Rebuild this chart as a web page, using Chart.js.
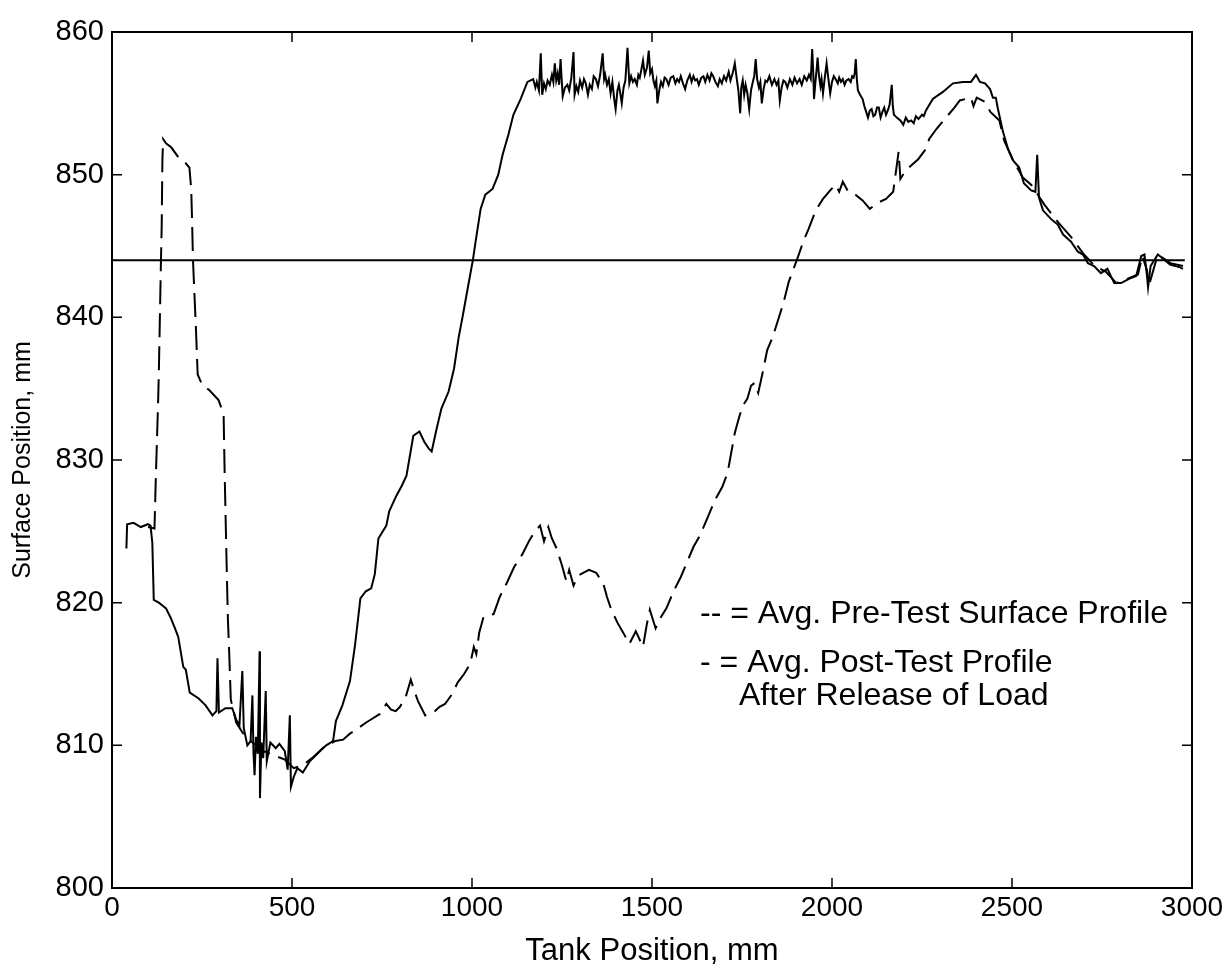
<!DOCTYPE html>
<html>
<head>
<meta charset="utf-8">
<script src="https://cdn.jsdelivr.net/npm/chart.js@4.4.1/dist/chart.umd.min.js"></script>
<style>
  html, body { margin: 0; padding: 0; background: #fff; }
  #wrap { width: 1228px; height: 973px; }
</style>
</head>
<body>
<div id="wrap"><canvas id="surfaceChart" width="1228" height="973"></canvas></div>
<script>
// ================= DATA =================
const xTicks = [0, 500, 1000, 1500, 2000, 2500, 3000];
const yTicks = [800, 810, 820, 830, 840, 850, 860];

// still water level
const levelX = [0, 2980];
const levelY = [844, 844];

// solid: avg. post-test profile after release of load
const postX = [40, 42, 60, 80, 100, 107, 112, 116, 130, 140, 150, 162, 175, 184, 198, 205, 216, 240, 260, 279,
  290, 293, 297, 315, 334, 345, 354, 362, 366, 376, 385, 390, 393, 396, 400, 405, 410, 411, 415, 420,
  427, 430, 440, 455, 465, 480, 488, 494, 497, 505, 515, 530, 550, 578, 595, 614, 622, 640, 661, 675,
  690, 705, 720, 730, 740, 762, 770, 790, 805, 818, 837, 854, 867, 880, 888, 900, 915, 935, 950, 963,
  975, 985, 1003, 1010, 1024, 1037, 1057, 1073, 1085, 1101, 1115, 1135, 1154,
  1170, 1176, 1180, 1186, 1191, 1195, 1200, 1205, 1210, 1216, 1222, 1226, 1230, 1234, 1238, 1242, 1246, 1249, 1252, 1258,
  1265, 1270, 1276, 1282, 1285, 1290, 1295, 1300, 1306, 1311, 1316, 1322, 1327, 1333, 1338, 1344, 1350, 1356, 1363, 1367,
  1370, 1375, 1380, 1385, 1390, 1395, 1399, 1404, 1408, 1412, 1416, 1421, 1426, 1432, 1437, 1442, 1447, 1452, 1458, 1462,
  1466, 1470, 1475, 1480, 1486, 1491, 1495, 1500, 1504, 1508, 1512, 1515, 1520, 1525, 1530, 1535, 1540, 1546, 1552, 1559,
  1565, 1570, 1575, 1580, 1586, 1592, 1598, 1605, 1610, 1615, 1620, 1625, 1630, 1637, 1643, 1648, 1654, 1660, 1665, 1670,
  1676, 1683, 1688, 1694, 1700, 1706, 1713, 1718, 1724, 1730, 1735, 1740, 1745, 1748, 1752, 1756, 1760, 1765, 1770, 1775,
  1780, 1784, 1788, 1792, 1797, 1801, 1805, 1810, 1815, 1820, 1826, 1833, 1840, 1846, 1851, 1855, 1860, 1865, 1870, 1876,
  1883, 1890, 1896, 1903, 1910, 1916, 1923, 1930, 1936, 1941, 1945, 1948, 1950, 1954, 1957, 1960, 1964, 1968, 1971, 1975,
  1980, 1985, 1990, 1995, 2000, 2005, 2010, 2016, 2020, 2025, 2030, 2035, 2040, 2046, 2052, 2056, 2060, 2063, 2066, 2069,
  2072, 2078, 2085, 2090, 2095, 2100, 2105, 2110, 2115, 2120, 2125, 2130, 2135, 2140, 2145, 2150, 2155, 2160, 2163, 2166,
  2169, 2172, 2180, 2190, 2198, 2205, 2212, 2220, 2227, 2233, 2240, 2250, 2255, 2261,
  2280, 2308, 2336, 2364, 2386, 2400, 2411, 2425, 2439, 2447, 2455, 2461, 2475, 2489, 2503,
  2520, 2533, 2553, 2565, 2570, 2575, 2586, 2608, 2627, 2642, 2664, 2683, 2697, 2711, 2728, 2747, 2765, 2784, 2803, 2825,
  2845, 2859, 2868, 2875, 2878, 2885, 2905, 2920, 2939, 2967, 2975];
const postY = [823.8, 825.5, 825.6, 825.3, 825.5, 825.4, 824.2, 820.2, 820.0, 819.8, 819.6, 819.0, 818.2, 817.6, 815.5, 815.3, 813.7, 813.3, 812.8, 812.1,
  812.4, 816.1, 812.3, 812.6, 812.6, 811.8, 811.4, 815.2, 811.2, 810.0, 810.3, 813.5, 809.5, 807.9, 810.6, 809.4, 816.6, 806.3, 810.2, 809.1,
  813.8, 808.9, 810.2, 809.8, 810.1, 809.6, 808.3, 812.1, 807.1, 807.8, 808.4, 808.1, 808.9, 809.6, 810.0, 810.3, 811.7, 812.8, 814.5, 817.0,
  820.3, 820.8, 821.0, 822.0, 824.5, 825.4, 826.4, 827.5, 828.2, 828.9, 831.7, 832.0, 831.3, 830.8, 830.6, 832.0, 833.6, 834.8, 836.4, 838.6,
  840.2, 841.6, 844.1, 845.3, 847.6, 848.6, 849.0, 850.0, 851.4, 852.8, 854.2, 855.3, 856.5,
  856.7, 856.1, 856.5, 855.9, 858.5, 855.6, 856.4, 856.0, 856.6, 856.3, 857.0, 856.5, 857.8, 856.6, 857.1, 856.3, 858.1, 856.7, 855.5, 856.1,
  856.3, 855.9, 856.8, 858.6, 855.6, 856.2, 855.8, 856.6, 856.1, 856.7, 856.4, 855.6, 856.3, 856.0, 856.9, 856.7, 856.2, 857.0, 858.5, 856.7,
  857.0, 856.3, 856.7, 855.7, 856.5, 855.3, 854.6, 855.9, 856.3, 855.7, 855.0, 856.1, 856.6, 858.9, 856.4, 856.9, 856.5, 856.7, 856.3, 857.0,
  856.8, 857.3, 858.0, 857.0, 857.5, 858.7, 857.1, 857.4, 856.6, 856.2, 856.6, 855.0, 855.9, 856.5, 856.2, 856.8, 856.7, 856.3, 856.8, 856.9,
  856.4, 856.7, 856.5, 856.9, 856.4, 856.0, 856.6, 857.0, 856.5, 856.9, 856.6, 856.7, 856.3, 856.8, 856.9, 856.5, 857.0, 856.6, 857.1, 856.9,
  856.5, 856.2, 856.7, 856.4, 856.9, 856.6, 857.2, 856.6, 857.1, 857.8, 856.8, 855.9, 854.3, 856.1, 856.6, 855.6, 856.3, 855.7, 854.6, 855.9,
  856.5, 856.9, 858.1, 856.7, 856.1, 856.5, 855.0, 856.0, 856.6, 856.5, 856.9, 856.3, 856.7, 856.3, 856.6, 855.2, 856.1, 856.6, 856.5, 856.1,
  856.7, 856.3, 856.8, 856.4, 856.7, 856.3, 856.9, 856.6, 857.0, 856.7, 858.8, 857.1, 855.3, 856.5, 857.3, 858.2, 856.9, 856.2, 856.7, 855.7,
  856.8, 857.8, 856.7, 855.7, 856.5, 856.9, 856.7, 856.4, 856.8, 856.5, 856.7, 856.3, 856.6, 856.7, 856.5, 856.9, 856.8, 857.1, 858.1, 856.7,
  855.9, 855.6, 855.3, 854.8, 854.4, 854.0, 854.5, 854.6, 854.1, 854.2, 854.7, 854.7, 854.0, 854.4, 854.7, 854.2, 854.5, 854.9, 855.6, 856.3,
  854.8, 854.2, 854.0, 853.8, 853.5, 854.0, 853.7, 853.8, 853.6, 854.1, 853.9, 854.2, 854.1, 854.5,
  855.3, 855.8, 856.4, 856.5, 856.5, 857.0, 856.5, 856.4, 856.0, 855.4, 855.4, 854.6, 853.0, 851.8, 851.0,
  850.5, 849.4, 848.9, 848.8, 851.4, 848.4, 847.5, 846.9, 846.5, 845.8, 845.3, 844.6, 844.4, 843.8, 843.6, 843.1, 843.4, 842.4, 842.4, 842.7,
  842.9, 844.3, 844.4, 842.9, 842.1, 843.6, 844.4, 844.1, 843.7, 843.5, 843.4];

// dashed: avg. pre-test surface profile
const preX = [100, 118, 122, 125, 128, 130, 133, 136, 138, 140, 142, 150, 165, 185, 205, 215, 220, 222, 225, 229,
  233, 238, 250, 270, 296, 310, 313, 316, 319, 322, 325, 330, 345, 365, 390, 420, 450, 480, 505, 530,
  560, 590, 620, 642, 660, 678, 706, 725, 744, 762, 775, 788, 800, 816, 830, 840, 850, 870, 885, 897,
  910, 925, 945, 960, 978, 995, 1005, 1012, 1020, 1032, 1060, 1077, 1097, 1117, 1140, 1160, 1175, 1189, 1200, 1212,
  1222, 1235, 1250, 1262, 1270, 1282, 1295, 1310, 1325, 1345, 1365, 1375, 1387, 1404, 1420, 1437, 1455, 1475, 1485, 1494,
  1510, 1525, 1540, 1560, 1580, 1600, 1615, 1633, 1655, 1675, 1695, 1710, 1720, 1730, 1742, 1752, 1765, 1775, 1785, 1795,
  1808, 1820, 1835, 1850, 1865, 1880, 1905, 1920, 1935, 1955, 1975, 1995, 2010, 2020, 2030, 2045, 2065, 2085, 2105, 2125,
  2150, 2170, 2185, 2190, 2205, 2240, 2261, 2270, 2290, 2320, 2340, 2355, 2386, 2393, 2402, 2425, 2440, 2465, 2478, 2503,
  2530, 2553, 2590, 2630, 2665, 2700, 2730, 2760, 2790, 2820, 2850, 2862, 2875, 2880, 2905, 2940, 2975];
const preY = [825.3, 825.2, 829.0, 831.5, 834.0, 836.0, 840.0, 844.0, 846.3, 851.0, 852.5, 852.2, 851.9, 851.2, 850.8, 850.5, 849.0, 847.2, 844.0, 841.6,
  839.3, 836.0, 835.3, 834.9, 834.2, 833.2, 829.0, 825.5, 822.0, 818.8, 816.9, 813.2, 811.6, 810.8, 810.2, 809.6, 809.3, 809.0, 808.4, 808.6,
  809.2, 809.9, 810.3, 810.4, 810.8, 811.1, 811.6, 811.9, 812.2, 812.9, 812.5, 812.4, 812.7, 813.4, 814.6, 813.8, 813.1, 812.1, 812.3, 812.4,
  812.7, 812.9, 813.6, 814.4, 815.0, 815.7, 816.9, 816.4, 817.9, 819.0, 819.2, 820.4, 821.4, 822.5, 823.4, 824.4, 825.0, 825.4, 824.3, 825.3,
  824.5, 823.8, 822.6, 821.5, 822.3, 821.2, 821.9, 822.1, 822.3, 822.1, 821.3, 820.4, 819.5, 818.6, 817.9, 817.1, 818.0, 816.9, 818.4, 819.5,
  818.2, 819.0, 819.6, 820.8, 821.8, 823.0, 823.9, 824.7, 826.0, 827.2, 828.1, 829.1, 830.5, 831.9, 833.0, 833.8, 834.3, 835.2, 835.4, 834.7,
  836.2, 837.7, 838.6, 839.8, 841.0, 842.5, 844.2, 845.3, 846.2, 847.5, 848.3, 848.9, 849.3, 848.8, 849.5, 848.8, 848.6, 848.2, 847.6, 848.0,
  848.3, 848.8, 851.6, 849.7, 850.3, 851.1, 851.8, 852.5, 853.2, 854.1, 854.7, 855.2, 855.4, 854.8, 855.4, 855.1, 854.4, 853.8, 852.4, 851.0,
  849.8, 849.3, 847.9, 846.6, 845.6, 844.4, 843.6, 843.2, 842.4, 842.7, 843.0, 844.3, 843.3, 842.2, 844.4, 843.8, 843.6];

const legendLines = [
  "-- = Avg. Pre-Test Surface Profile",
  "- = Avg. Post-Test Profile",
  "After Release of Load"
];

const toPoints = (xs, ys) => xs.map((x, i) => ({ x: x, y: ys[i] }));

// ================= PLUGINS =================
// inward tick marks on all four sides (MATLAB style box)
const inwardTicks = {
  id: "inwardTicks",
  afterDatasetsDraw(chart) {
    const { ctx, chartArea: a, scales } = chart;
    const len = 10;
    ctx.save();
    ctx.strokeStyle = "#000";
    ctx.lineWidth = 1.5;
    ctx.beginPath();
    scales.x.ticks.forEach((t) => {
      const px = scales.x.getPixelForValue(t.value);
      ctx.moveTo(px, a.bottom); ctx.lineTo(px, a.bottom - len);
      ctx.moveTo(px, a.top); ctx.lineTo(px, a.top + len);
    });
    scales.y.ticks.forEach((t) => {
      const py = scales.y.getPixelForValue(t.value);
      ctx.moveTo(a.left, py); ctx.lineTo(a.left + len, py);
      ctx.moveTo(a.right, py); ctx.lineTo(a.right - len, py);
    });
    ctx.stroke();
    ctx.restore();
  }
};

// the text legend inside the plot
const textLegend = {
  id: "textLegend",
  afterDraw(chart) {
    const ctx = chart.ctx;
    ctx.save();
    ctx.fillStyle = "#000";
    ctx.font = "32px 'Liberation Sans', Arial, sans-serif";
    ctx.textBaseline = "alphabetic";
    ctx.fillText(legendLines[0], 700, 623);
    ctx.fillText(legendLines[1], 700, 672);
    ctx.fillText(legendLines[2], 739, 705);
    ctx.restore();
  }
};

// ================= CHART =================
const fontFamily = "'Liberation Sans', Arial, sans-serif";

const surfaceChart = new Chart(document.getElementById("surfaceChart"), {
  type: "line",
  data: {
    datasets: [
      {
        label: "Water Level",
        data: toPoints(levelX, levelY),
        borderColor: "#000",
        borderWidth: 2,
        pointRadius: 0,
        tension: 0
      },
      {
        label: "Avg. Post-Test Profile After Release of Load",
        data: toPoints(postX, postY),
        borderColor: "#000",
        borderWidth: 2,
        pointRadius: 0,
        tension: 0
      },
      {
        label: "Avg. Pre-Test Surface Profile",
        data: toPoints(preX, preY),
        borderColor: "#000",
        borderWidth: 2,
        borderDash: [24, 9],
        pointRadius: 0,
        tension: 0
      }
    ]
  },
  options: {
    responsive: false,
    animation: false,
    layout: {
      padding: { top: 32, right: 36, left: 0, bottom: 0 }
    },
    plugins: {
      legend: { display: false },
      tooltip: { enabled: false }
    },
    scales: {
      x: {
        type: "linear",
        position: "bottom",
        min: 0,
        max: 3000,
        afterBuildTicks: (scale) => { scale.ticks = xTicks.map((v) => ({ value: v })); },
        afterFit: (scale) => { scale.height = 85; },
        ticks: {
          color: "#000",
          font: { family: fontFamily, size: 28 },
          padding: 3,
          maxRotation: 0,
          callback: (v) => String(v)
        },
        grid: { display: true, drawOnChartArea: false, drawTicks: false },
        border: { display: true, color: "#000", width: 2 },
        title: {
          display: true,
          text: "Tank Position, mm",
          color: "#000",
          font: { family: fontFamily, size: 31 },
          padding: { top: 0, bottom: 3 }
        }
      },
      y: {
        type: "linear",
        position: "left",
        min: 800,
        max: 860,
        afterBuildTicks: (scale) => { scale.ticks = yTicks.map((v) => ({ value: v })); },
        afterFit: (scale) => { scale.width = 112; },
        ticks: {
          color: "#000",
          font: { family: fontFamily, size: 29 },
          padding: 8,
          callback: (v) => String(v)
        },
        grid: { display: true, drawOnChartArea: false, drawTicks: false },
        border: { display: true, color: "#000", width: 2 },
        title: {
          display: true,
          text: "Surface Position, mm",
          color: "#000",
          font: { family: fontFamily, size: 25 },
          padding: { top: 8, bottom: 0 }
        }
      },
      x2: {
        type: "linear",
        position: "top",
        min: 0,
        max: 3000,
        afterFit: (scale) => { scale.height = 0; },
        ticks: { display: false },
        grid: { display: true, drawOnChartArea: false, drawTicks: false },
        border: { display: true, color: "#000", width: 2 }
      },
      y2: {
        type: "linear",
        position: "right",
        min: 800,
        max: 860,
        afterFit: (scale) => { scale.width = 0; },
        ticks: { display: false },
        grid: { display: true, drawOnChartArea: false, drawTicks: false },
        border: { display: true, color: "#000", width: 2 }
      }
    }
  },
  plugins: [inwardTicks, textLegend]
});
</script>
</body>
</html>
